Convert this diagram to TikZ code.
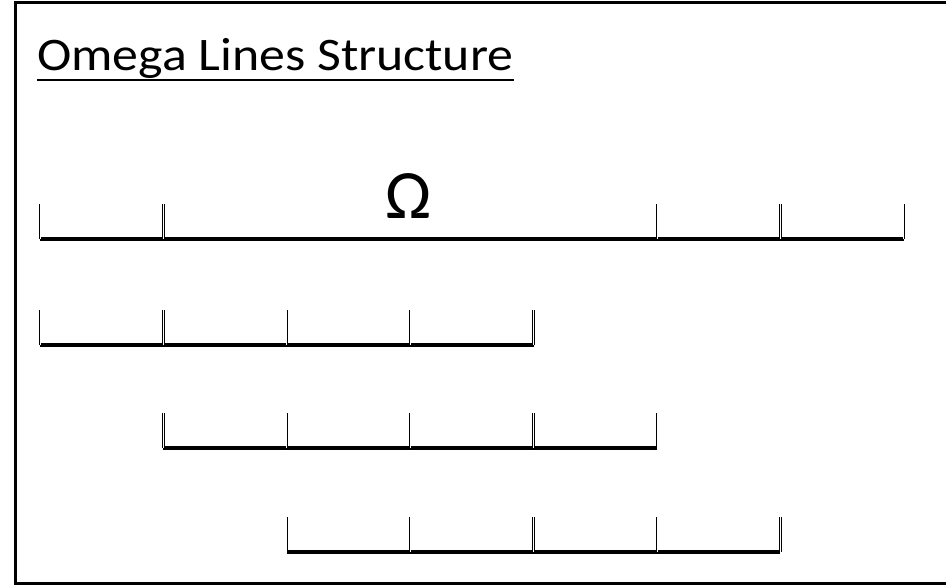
\documentclass[tikz,border=0pt]{standalone}
\usepackage{fontspec}
\setmainfont{Carlito}

\begin{document}
\begin{tikzpicture}[x=0.75pt, y=-0.75pt,
  rule/.style={line width=3.2pt},
  tickmark/.style={double, line width=0.6pt, double distance=0.6pt}]
\useasboundingbox (0,0) rectangle (946,585);

% Frame (open on the right)
\draw[line width=2.25pt] (946,3) -- (15,3) -- (15,583) -- (946,583);

% Title, underlined
\node[anchor=base west, inner sep=0pt, font=\fontsize{35}{42}\selectfont] (title) at (37,70) {\scalebox{1.11}[1]{Omega Lines Structure}};
\draw[line width=1.8pt] ([yshift=-1.5pt]title.south west) -- ([yshift=-1.5pt]title.south east);

% Omega label
\node[anchor=base, inner sep=0pt, font=\fontsize{52}{60}\selectfont] (omega) at (409,218) {Ω};

% Lines with ticks: y / first / last / ticks
\foreach \y/\a/\b/\ticks [count=\r] in {239/0/7/{0,1,5,6,7}, 345/0/4/{0,1,2,3,4}, 448/1/5/{1,2,3,4,5}, 552/2/6/{2,3,4,5,6}} {
  \coordinate (start\r) at (40+123.4*\a,\y);
  \coordinate (end\r) at (40+123.4*\b,\y);
  \draw[rule] (start\r) -- (end\r);
  \foreach \t in \ticks {
    \coordinate (tick\r-\t) at (40+123.4*\t,\y);
    \draw[tickmark] (tick\r-\t) -- ++(0,-35);
  }
}

\end{tikzpicture}
\end{document}
